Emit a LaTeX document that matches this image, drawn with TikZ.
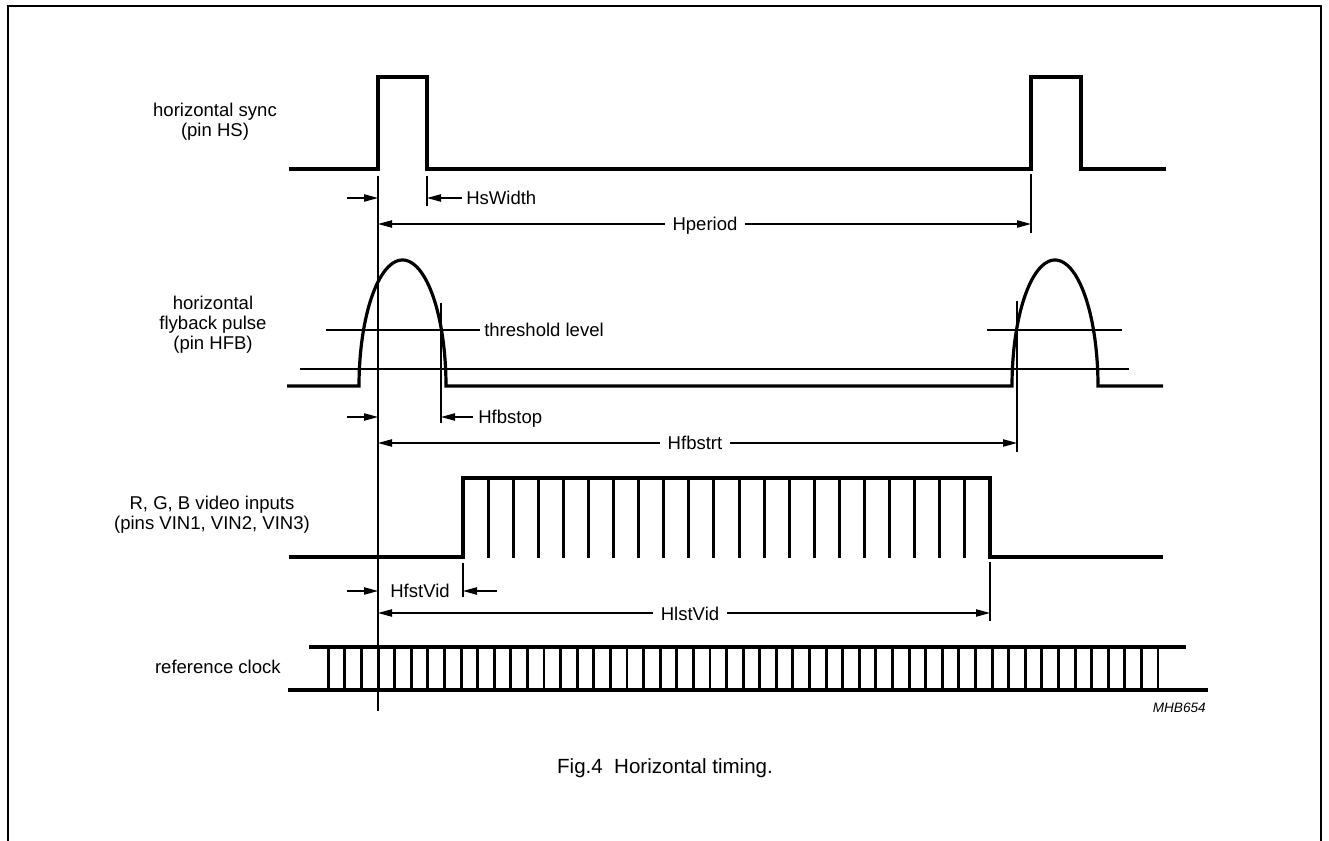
\documentclass[tikz,border=0pt]{standalone}
\usepackage{fontspec}
\setmainfont{Liberation Sans}
\usetikzlibrary{arrows.meta}
\begin{document}
\begin{tikzpicture}[x={(0.75pt,0)},y={(0,-0.75pt)},
  sig/.style={line width=2.4pt, line join=miter},
  tick/.style={line width=2.2pt, line cap=rect},
  thin/.style={line width=0.9pt},
  tip/.style={},
  dim/.style={line width=0.9pt, -{Triangle[length=10.5pt,width=5.5pt]}},
  dimboth/.style={line width=0.9pt, {Triangle[length=10.5pt,width=5.5pt]}-{Triangle[length=10.5pt,width=5.5pt]}},
  lbl/.style={font=\fontsize{13.9pt}{15pt}\selectfont, inner sep=0pt},
  midlbl/.style={lbl, fill=white, inner xsep=6pt, inner ysep=2pt},
  sidelbl/.style={lbl, anchor=base},
]
\useasboundingbox (0,0) rectangle (1329,841);
% frame
\draw[line width=1.6pt] (8,841) -- (8,6) -- (1321,6) -- (1321,841);

% ---------- horizontal sync ----------
\node[sidelbl] (hs1) at (215,117) {horizontal sync};
\node[sidelbl] (hs2) at (215,137) {(pin HS)};
\draw[sig] (289,169) -- (378,169) -- (378,77) -- (427,77) -- (427,169)
  -- (1031,169) -- (1031,77) -- (1081,77) -- (1081,169) -- (1166,169);

% reference vertical line
\coordinate (reftop) at (378,176);
\coordinate (refbot) at (378,711);
\draw[thin] (reftop) -- (refbot);

% HsWidth
\draw[thin] (427,176) -- (427,206);
\coordinate (hsA) at (347,198); \coordinate (hsB) at (378,198);
\draw[dim] (hsA) -- (hsB);
\coordinate (hsC) at (462,198); \coordinate (hsD) at (427,198);
\draw[dim] (hsC) -- (hsD);
\node[sidelbl, anchor=base west] (hsw) at (466,205) {HsWidth};

% Hperiod
\draw[thin] (1031,174) -- (1031,233);
\coordinate (hpA) at (378,224); \coordinate (hpB) at (1031,224);
\draw[dimboth] (hpA) -- (hpB);
\node[midlbl, anchor=base] (hp) at (705,231) {Hperiod};

% ---------- flyback ----------
\node[sidelbl] (fb1) at (213,310) {horizontal};
\node[sidelbl] (fb2) at (213,330) {flyback pulse};
\node[sidelbl] (fb3) at (213,350) {(pin HFB)};
\draw[sig] (287,386) -- (359,386)
  -- plot[domain=180:0, samples=80] ({402.5+43.5*cos(\x)}, {386-126*sin(\x)})
  -- (1012,386)
  -- plot[domain=180:0, samples=80] ({1055+43*cos(\x)}, {386-126*sin(\x)})
  -- (1163,386);
% threshold lines
\draw[thin] (326,330) -- (480,330);
\node[sidelbl, anchor=base west] (thr) at (484,337) {threshold level};
\draw[thin] (987,330) -- (1122,330);
\draw[thin] (300,369) -- (1129,369);
% verticals
\draw[thin] (441,303) -- (441,423);
\draw[thin] (1017,301) -- (1017,452);
% Hfbstop
\coordinate (fsA) at (347,417); \coordinate (fsB) at (378,417);
\draw[dim] (fsA) -- (fsB);
\coordinate (fsC) at (473,417); \coordinate (fsD) at (441,417);
\draw[dim] (fsC) -- (fsD);
\node[sidelbl, anchor=base west] (hfbstop) at (478,424) {Hfbstop};
% Hfbstrt
\coordinate (ftA) at (378,443); \coordinate (ftB) at (1017,443);
\draw[dimboth] (ftA) -- (ftB);
\node[midlbl, anchor=base] (hfbstrt) at (695,450) {Hfbstrt};

% ---------- video ----------
\node[sidelbl] (v1) at (212,510) {R, G, B video inputs};
\node[sidelbl] (v2) at (212,530) {(pins VIN1, VIN2, VIN3)};
\foreach \k in {1,...,20} {
  \draw[tick] ({463+\k*25.095},478) -- ({463+\k*25.095},557);
}
\draw[sig] (289,557) -- (463,557) -- (463,478) -- (990,478) -- (990,557) -- (1163,557);
% HfstVid
\draw[thin] (463,563) -- (463,597);
\coordinate (vA) at (347,591); \coordinate (vB) at (378,591);
\draw[dim] (vA) -- (vB);
\coordinate (vC) at (497,591); \coordinate (vD) at (463,591);
\draw[dim] (vC) -- (vD);
\node[sidelbl] (hfst) at (420,598) {HfstVid};
% HlstVid
\draw[thin] (990,562) -- (990,621);
\coordinate (lA) at (378,613); \coordinate (lB) at (990,613);
\draw[dimboth] (lA) -- (lB);
\node[midlbl, anchor=base] (hlst) at (690,620) {HlstVid};

% ---------- reference clock ----------
\node[sidelbl, anchor=base east] (clk) at (281,673) {reference clock};
\foreach \k in {0,...,50} {
  \draw[tick] ({328.3+\k*16.594},647) -- ({328.3+\k*16.594},690);
}
\draw[sig] (309,647) -- (1186,647);
\draw[sig] (288,690) -- (1208,690);

% code and caption
\node[anchor=base east, inner sep=0pt, font=\fontsize{10.2pt}{12pt}\selectfont\itshape] (code) at (1206,712) {MHB654};
\node[anchor=base, inner sep=0pt, font=\fontsize{15.4pt}{18pt}\selectfont] (cap) at (665,773) {Fig.4\ \ Horizontal timing.};
\end{tikzpicture}
\end{document}
